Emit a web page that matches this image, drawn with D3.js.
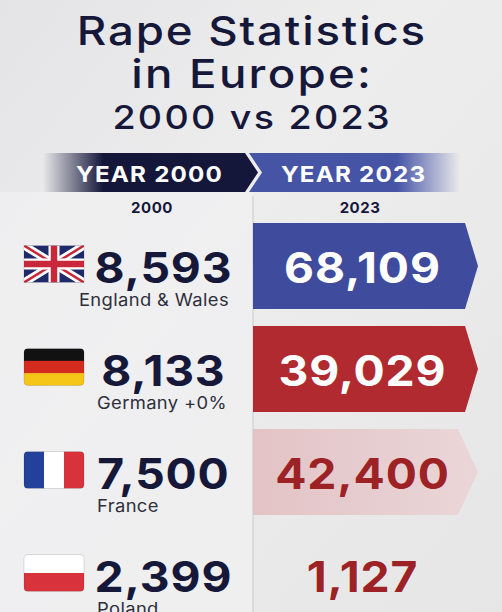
<!DOCTYPE html>
<html>
<head>
<meta charset="utf-8">
<script src="https://cdn.jsdelivr.net/npm/d3@7"></script>
<style>
  html, body { margin: 0; padding: 0; background: #e9e9ea; }
  svg { display: block; }
</style>
</head>
<body>
<div id="chart"></div>
<script>
// chart data
const titleLines = ['Rape Statistics', 'in Europe:', '2000 vs 2023'];
const years = ['2000', '2023'];
const headerLabels = ['YEAR 2000', 'YEAR 2023'];
const countries = ['England & Wales', 'Germany +0%', 'France', 'Poland'];
const flags = ['uk', 'de', 'fr', 'pl'];
const values2000 = [8593, 8133, 7500, 2399];
const values2023 = [68109, 39029, 42400, 1127];

const W = 502, H = 612;
const NAVY = '#16183a';
const fmt = d3.format(',');
const font = 'Inter, "Noto Sans", sans-serif';

// look of each 2023 cell, by row
const cellStyles = [
    { fill: '#3f4b9d', text: '#ffffff' },
    { fill: '#b12a30', text: '#ffffff' },
    { fill: '#e6c8cb', text: '#9c2226', fade: true },
    { fill: 'none', text: '#9c2226' }
];

const svg = d3.select('#chart').append('svg')
    .attr('width', W)
    .attr('height', H);

const defs = svg.append('defs');

// the original face is wider than Inter, so text is stretched a little
function wideText(sel, cx, cy, sx) {
    return sel.append('g')
        .attr('transform', (d, i) => {
            const px = typeof cx === 'function' ? cx(d, i) : cx;
            const py = typeof cy === 'function' ? cy(d, i) : cy;
            return `translate(${px},${py}) scale(${sx},1)`;
        })
        .append('text')
        .attr('font-family', font);
}

// background
const bg = defs.append('linearGradient').attr('id', 'bg')
    .attr('x1', 0).attr('y1', 0).attr('x2', 1).attr('y2', 1);
bg.append('stop').attr('offset', 0).attr('stop-color', '#e4e4e6');
bg.append('stop').attr('offset', 0.4).attr('stop-color', '#ededee');
bg.append('stop').attr('offset', 1).attr('stop-color', '#e6e6e7');
svg.append('rect').attr('width', W).attr('height', H).attr('fill', 'url(#bg)');

// scales
const x = d3.scaleBand().domain(years).range([45, 461]);
const y = d3.scaleBand().domain(countries).range([223, 618]).paddingInner(0.165);
const divX = 253;

// left panel slightly lighter
svg.append('rect')
    .attr('x', 0).attr('y', 192)
    .attr('width', divX).attr('height', H - 192)
    .attr('fill', '#f1f1f2').attr('opacity', 0.7);

// title
const titleG = svg.append('g').selectAll('g')
    .data(titleLines)
    .join(enter => enter.append('g'));
titleG.each(function (d, i) {
    const ls = [1.6, 2, 2][i];
    wideText(d3.select(this), W / 2 + ls * 0.57, [45, 88, 129][i], 1.14)
        .attr('text-anchor', 'middle')
        .attr('fill', NAVY)
        .attr('font-weight', 500)
        .attr('font-size', i < 2 ? 40 : 33)
        .attr('letter-spacing', ls)
        .text(d);
});

// header band
const gDark = defs.append('linearGradient').attr('id', 'hdrDark');
gDark.append('stop').attr('offset', 0).attr('stop-color', '#15173a').attr('stop-opacity', 0);
gDark.append('stop').attr('offset', 0.28).attr('stop-color', '#15173a').attr('stop-opacity', 1);
gDark.append('stop').attr('offset', 1).attr('stop-color', '#15173a');
const gBlue = defs.append('linearGradient').attr('id', 'hdrBlue');
gBlue.append('stop').attr('offset', 0).attr('stop-color', '#4654a6');
gBlue.append('stop').attr('offset', 0.7).attr('stop-color', '#4654a6');
gBlue.append('stop').attr('offset', 1).attr('stop-color', '#4654a6').attr('stop-opacity', 0);

const hTop = 153, hBot = 192, hMid = (hTop + hBot) / 2;
svg.append('path')
    .attr('d', `M43,${hTop}H245L258,${hMid}L245,${hBot}H43Z`)
    .attr('fill', 'url(#hdrDark)');
svg.append('path')
    .attr('d', `M249,${hTop}H460V${hBot}H249L262,${hMid}Z`)
    .attr('fill', 'url(#hdrBlue)');

const hdr = svg.append('g').selectAll('g')
    .data(years)
    .join('g');
wideText(hdr, (d, i) => x(d) + x.bandwidth() / 2 + (i ? -4 : 0) + 0.6, 182, 1.1)
    .attr('text-anchor', 'middle')
    .attr('fill', '#ffffff')
    .attr('font-weight', 700)
    .attr('font-size', 22)
    .attr('letter-spacing', 1.1)
    .text((d, i) => headerLabels[i]);

svg.append('g').selectAll('text')
    .data(years)
    .join('text')
    .attr('x', d => x(d) + x.bandwidth() / 2 + 3)
    .attr('y', 213)
    .attr('text-anchor', 'middle')
    .attr('fill', NAVY)
    .attr('font-family', font)
    .attr('font-weight', 700)
    .attr('font-size', 15)
    .attr('letter-spacing', 0.5)
    .text(d => d);

// divider
svg.append('line')
    .attr('x1', divX).attr('x2', divX)
    .attr('y1', 196).attr('y2', H)
    .attr('stroke', '#c9c9cc').attr('stroke-width', 1);

// 2023 cells
const gPink = defs.append('linearGradient').attr('id', 'pinkFade');
gPink.append('stop').attr('offset', 0).attr('stop-color', '#e3c3c6');
gPink.append('stop').attr('offset', 1).attr('stop-color', '#ead6d8');

const rows = svg.append('g').selectAll('g')
    .data(countries)
    .join('g')
    .attr('transform', d => `translate(0,${y(d)})`);

const bh = y.bandwidth();
rows.append('path')
    .attr('d', (d, i) => {
        const tipStart = i === 2 ? 458 : 465;
        return `M${divX},0H${tipStart}L478,${bh / 2}L${tipStart},${bh}H${divX}Z`;
    })
    .attr('fill', (d, i) => cellStyles[i].fade ? 'url(#pinkFade)' : cellStyles[i].fill);

const numLs = 0.8, numSx = 1.1;
wideText(rows, 362 + numLs * 0.55, bh / 2 + 17, numSx)
    .attr('text-anchor', 'middle')
    .attr('fill', (d, i) => cellStyles[i].text)
    .attr('font-weight', 700)
    .attr('font-size', 42)
    .attr('letter-spacing', numLs)
    .text((d, i) => fmt(values2023[i]));

// 2000 values
wideText(rows, 163 + numLs * 0.55, bh / 2 + 17, numSx)
    .attr('text-anchor', 'middle')
    .attr('fill', NAVY)
    .attr('font-weight', 700)
    .attr('font-size', 42)
    .attr('letter-spacing', numLs)
    .text((d, i) => fmt(values2000[i]));

const labSx = 1.08;
wideText(rows, 0, bh / 2 + 40, labSx)
    .attr('fill', '#2e2f3a')
    .attr('font-size', 17)
    .attr('letter-spacing', 0.35)
    .text(d => d)
    .each(function () {
        const w = this.getComputedTextLength() * labSx;
        const lx = 97 + w > 229 ? 229 - w : 97;
        d3.select(this.parentNode)
            .attr('transform', `translate(${lx},${bh / 2 + 40}) scale(${labSx},1)`);
    });

// flags
const flagW = 60, flagH = 37;
const flagG = rows.append('g')
    .attr('transform', `translate(24,${bh / 2 - flagH / 2 - 2})`);

flagG.each(function (d, i) {
    const g = d3.select(this);
    const code = flags[i];
    const clipId = 'clip-' + code;
    defs.append('clipPath').attr('id', clipId)
        .append('rect').attr('width', flagW).attr('height', flagH).attr('rx', code === 'uk' ? 0 : 4);
    const f = g.append('g').attr('clip-path', `url(#${clipId})`);
    if (code === 'uk') {
        f.append('rect').attr('width', flagW).attr('height', flagH).attr('fill', '#1f2a6b');
        const diag = `M0,0L${flagW},${flagH}M${flagW},0L0,${flagH}`;
        f.append('path').attr('d', diag).attr('stroke', '#fff').attr('stroke-width', 8);
        f.append('path').attr('d', diag).attr('stroke', '#c8283a').attr('stroke-width', 2.5);
        const cross = `M${flagW / 2},0V${flagH}M0,${flagH / 2}H${flagW}`;
        f.append('path').attr('d', cross).attr('stroke', '#fff').attr('stroke-width', 11);
        f.append('path').attr('d', cross).attr('stroke', '#c8283a').attr('stroke-width', 6.5);
    } else if (code === 'de') {
        ['#111111', '#d52b1e', '#f5c518'].forEach((c, k) => {
            f.append('rect').attr('y', k * flagH / 3).attr('width', flagW).attr('height', flagH / 3 + 0.5).attr('fill', c);
        });
    } else if (code === 'fr') {
        ['#23409a', '#ffffff', '#d8323c'].forEach((c, k) => {
            f.append('rect').attr('x', k * flagW / 3).attr('width', flagW / 3 + 0.5).attr('height', flagH).attr('fill', c);
        });
    } else {
        f.append('rect').attr('width', flagW).attr('height', flagH / 2).attr('fill', '#ffffff');
        f.append('rect').attr('y', flagH / 2).attr('width', flagW).attr('height', flagH / 2).attr('fill', '#d8323c');
    }
    g.append('rect').attr('width', flagW).attr('height', flagH)
        .attr('rx', code === 'uk' ? 0 : 4)
        .attr('fill', 'none').attr('stroke', 'rgba(0,0,0,0.12)');
});
</script>
</body>
</html>
